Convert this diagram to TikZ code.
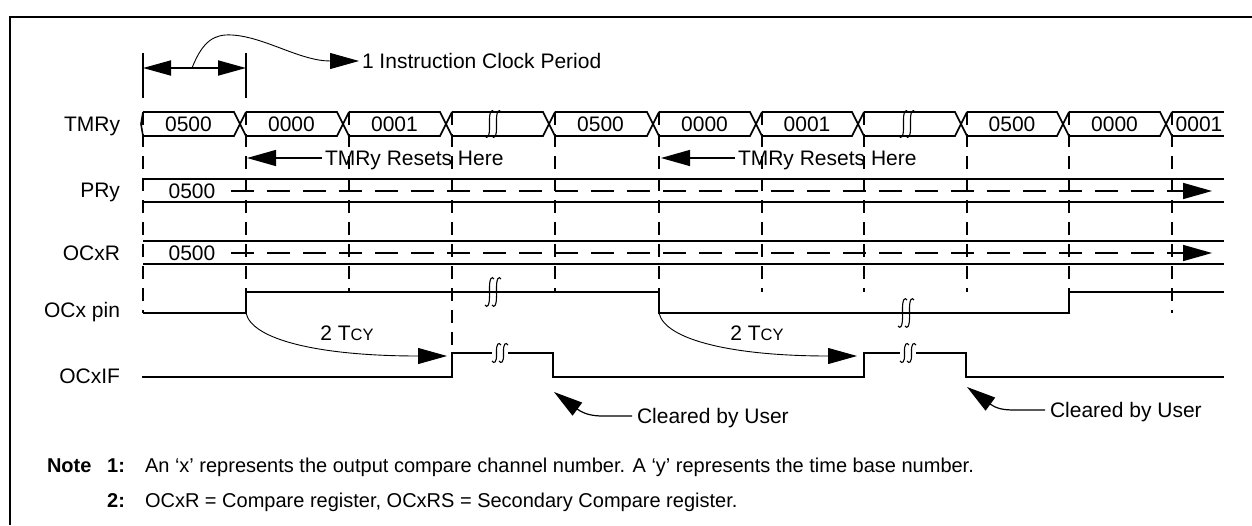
\documentclass[tikz,border=0pt]{standalone}
\usepackage{fontspec}
\setmainfont{Liberation Sans}
\usetikzlibrary{arrows.meta}
\newcommand\brkS[3]{%
  \draw[line width=1.1pt] (#1-8,#2+#3-2) .. controls (#1-6,#2+#3+1) and (#1-3,#2+#3) .. (#1-3.5,#2) .. controls (#1-4,#2-#3) and (#1-1,#2-#3-1) .. (#1+1,#2-#3+2);
  \draw[line width=1.1pt] (#1-1,#2+#3-2) .. controls (#1+1,#2+#3+1) and (#1+4,#2+#3) .. (#1+3.5,#2) .. controls (#1+3,#2-#3) and (#1+6,#2-#3-1) .. (#1+8,#2-#3+2);}
\newcommand\brkGap[3]{%
  \fill[white] (#1-8,#2-#3+3) rectangle (#1+8,#2+#3-3);
  \brkS{#1}{#2}{#3}}
\begin{document}
\begin{tikzpicture}[x=1pt,y=-1pt,
  every node/.style={font=\fontsize{21}{25}\selectfont, inner sep=0pt, outer sep=0pt, text height=15pt, text depth=0pt},
  notefont/.style={font=\fontsize{20}{24}\selectfont, text height=14.3pt},
  sig/.style={line width=1.8pt},
  bus/.style={line width=1.6pt},
  vdash/.style={line width=1.8pt, dash pattern=on 13pt off 9pt},
  hdash/.style={line width=1.6pt, dash pattern=on 23pt off 13pt},
  thinline/.style={line width=0.9pt},
  tri/.style={-{Triangle[length=29pt,width=16pt]}},
]
\useasboundingbox (0,0) rectangle (1252,525);
% frame
\draw[line width=2.4pt] (10,525) -- (10,17) -- (1252,17);

% row labels
\node[anchor=east] (lTMR) at (120,124) {TMRy};
\node[anchor=east] (lPR) at (120,190) {PRy};
\node[anchor=east] (lOCR) at (120,253) {OCxR};
\node[anchor=east] (lpin) at (120,310) {OCx pin};
\node[anchor=east] (lIF) at (120,376) {OCxIF};

% vertical dashed lines
\foreach \x/\yb in {143/313,246/292,349/292,452/353,555/292,659/292,762/292,864/292,967/292,1069/292,1172/313}
  \draw[vdash] (\x,112) -- (\x,\yb);

% TMRy bus
\draw[bus] (143,112) -- (141,124) -- (143,136);
\foreach \a/\b in {143/246,246/349,349/452,452/555,555/659,659/762,762/864,864/967,967/1069,1069/1172} {
  \draw[bus] (\a,112) -- (\b-12,112) -- (\b,136);
  \draw[bus] (\a,136) -- (\b-12,136) -- (\b,112);
}
\draw[bus] (1172,112) -- (1224,112);
\draw[bus] (1172,136) -- (1224,136);
\foreach \c/\v [count=\i] in {188.5/0500,291.5/0000,394.5/0001,600.5/0500,704.5/0000,807/0001,1012/0500,1114.5/0000,1199/0001}
  \node (tv\i) at (\c,124) {\v};
\brkS{493}{124}{14}
\brkS{907}{124}{14}

% PRy bus
\draw[bus] (143,179) -- (1224,179);
\draw[bus] (143,202) -- (1224,202);
\node (pv) at (192,191) {0500};
\coordinate (prEnd) at (1212,191);
\draw[hdash, tri] ([xshift=16pt]pv.east) -- (prEnd);

% OCxR bus
\draw[bus] (143,241) -- (1224,241);
\draw[bus] (143,264) -- (1224,264);
\node (ov) at (192,253) {0500};
\coordinate (ocEnd) at (1212,253);
\draw[hdash, tri] ([xshift=16pt]ov.east) -- (ocEnd);

% OCx pin
\draw[sig] (143,313) -- (246,313) -- (246,292) -- (659,292) -- (659,313) -- (1069,313) -- (1069,292) -- (1224,292);
\brkS{493}{292}{15}
\brkS{906}{313}{15}

% OCxIF
\draw[sig] (142,377) -- (452,377) -- (452,353) -- (553,353) -- (553,377) -- (864,377) -- (864,353) -- (966,353) -- (966,377) -- (1224,377);
\brkGap{500}{353}{10}
\brkGap{908}{353}{10}

% 2 TCY arrows
\coordinate (r1) at (246,313);
\coordinate (t1) at (447,356);
\draw[thinline, tri] (r1) .. controls (252,340) and (320,356) .. (t1);
\node (tc1) at (347,333) {2 T{\fontsize{16.5}{17}\selectfont CY}};
\coordinate (r2) at (659,313);
\coordinate (t2) at (857,356);
\draw[thinline, tri] (r2) .. controls (665,340) and (733,356) .. (t2);
\node (tc2) at (757,333) {2 T{\fontsize{16.5}{17}\selectfont CY}};

% TMRy Resets Here
\node[anchor=west] (rs1) at (325,158) {TMRy Resets Here};
\coordinate (rt1) at (247,158);
\draw[line width=1.3pt, tri] ([xshift=-3pt]rs1.west) -- (rt1);
\node[anchor=west] (rs2) at (738,158) {TMRy Resets Here};
\coordinate (rt2) at (661,158);
\draw[line width=1.3pt, tri] ([xshift=-3pt]rs2.west) -- (rt2);

% Cleared by User
\node[anchor=west] (cl1) at (637,416) {Cleared by User};
\coordinate (ct1) at (554,392);
\draw[line width=1.2pt, tri] ([xshift=-5pt]cl1.west) -- (603,416) .. controls (592,416) and (584,414) .. (ct1);
\node[anchor=west] (cl2) at (1050,410) {Cleared by User};
\coordinate (ct2) at (967,387);
\draw[line width=1.2pt, tri] ([xshift=-5pt]cl2.west) -- (1015,410) .. controls (1004,410) and (997,409) .. (ct2);

% clock period
\coordinate (cpL) at (143,68);
\coordinate (cpR) at (246,68);
\draw[line width=1.8pt] (143,53) -- (143,98);
\draw[line width=1.8pt] (246,53) -- (246,98);
\draw[line width=1.8pt, {Triangle[length=28pt,width=15pt]}-{Triangle[length=28pt,width=15pt]}] (cpL) -- (cpR);
\node[anchor=west] (icp) at (362,61) {1 Instruction Clock Period};
\draw[thinline, tri] (192,68) .. controls (203,40) and (215,34) .. (232,35) .. controls (265,37) and (300,61) .. ([xshift=-3pt]icp.west);

% notes
\node[notefont, anchor=west] (note) at (47,465) {\bfseries Note};
\node[notefont, anchor=east] (n1) at (125,465) {\bfseries 1:};
\node[notefont, anchor=west] (n1t) at (145,465) {An ‘x’ represents the output compare channel number. A ‘y’ represents the time base number.};
\node[notefont, anchor=east] (n2) at (125,500) {\bfseries 2:};
\node[notefont, anchor=west] (n2t) at (145,500) {OCxR = Compare register, OCxRS = Secondary Compare register.};
\end{tikzpicture}
\end{document}
